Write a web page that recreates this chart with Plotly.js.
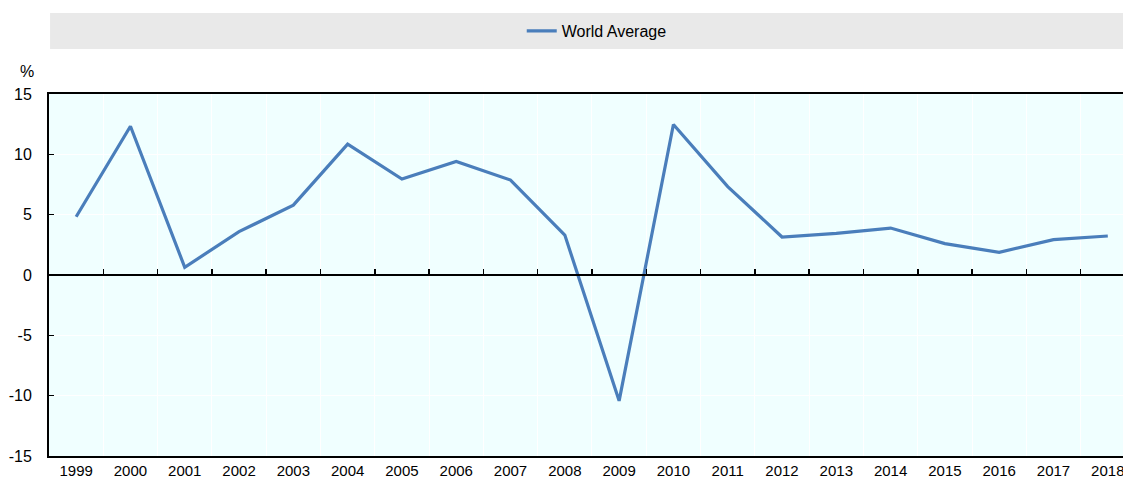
<!DOCTYPE html>
<html>
<head>
<meta charset="utf-8">
<script src="https://cdn.plot.ly/plotly-3.0.1.min.js"></script>
<style>
  html, body { margin: 0; padding: 0; background: #ffffff; }
  #chart { width: 1123px; height: 479px; }
</style>
</head>
<body>
<div id="chart"></div>
<script>
// Annual growth, world average (%)
const years = ["1999","2000","2001","2002","2003","2004","2005","2006","2007","2008",
               "2009","2010","2011","2012","2013","2014","2015","2016","2017","2018"];
const worldAverage = [4.83, 12.33, 0.64, 3.59, 5.79, 10.85, 7.95, 9.41, 7.87, 3.31,
                      -10.43, 12.47, 7.32, 3.15, 3.45, 3.89, 2.60, 1.88, 2.93, 3.23];
const seriesName = "World Average";
const yTicks = [-15, -10, -5, 0, 5, 10, 15];

const FONT = "'Liberation Sans Narrow', 'Arial Narrow', 'Liberation Sans', Arial, sans-serif";
const BLUE = "#4a7ebb";

const traces = [
  {
    x: years, y: worldAverage, type: "scatter", mode: "lines",
    name: seriesName,
    line: { color: BLUE, width: 3.2 },
    xaxis: "x", yaxis: "y",
    hoverinfo: "x+y"
  },
  // carrier for the zero-line axis with category boundary ticks
  {
    x: years, y: worldAverage, type: "scatter", mode: "lines",
    xaxis: "x2", yaxis: "y",
    line: { color: "rgba(0,0,0,0)", width: 0 },
    showlegend: false, hoverinfo: "skip"
  }
];

const xRange = [-0.5, 19.28];

const layout = {
  width: 1123, height: 479,
  margin: { l: 49, r: 0, t: 94, b: 23, pad: 0 },
  paper_bgcolor: "#ffffff",
  plot_bgcolor: "#f0ffff",
  font: { family: FONT, size: 16, color: "#000000" },
  showlegend: true,
  legend: {
    orientation: "h",
    x: 0.51, xanchor: "center",
    y: 1.174, yanchor: "middle",
    bgcolor: "rgba(0,0,0,0)",
    font: { family: FONT, size: 16, color: "#000000" }
  },
  xaxis: {
    type: "category",
    range: xRange,
    tickson: "boundaries",
    ticks: "",
    showgrid: true, gridcolor: "#ffffff", gridwidth: 1,
    showline: true, linecolor: "#000000", linewidth: 2,
    mirror: true,
    tickfont: { family: FONT, size: 15, color: "#000000" },
    ticklabelstandoff: 0,
    fixedrange: true
  },
  xaxis2: {
    type: "category",
    overlaying: "x",
    anchor: "free",
    position: 0.5,
    side: "bottom",
    range: xRange,
    tickson: "boundaries",
    ticks: "inside", ticklen: 5, tickwidth: 1.5, tickcolor: "#000000",
    showticklabels: false,
    showgrid: false,
    showline: true, linecolor: "#000000", linewidth: 2,
    fixedrange: true
  },
  yaxis: {
    range: [-15, 15],
    tickvals: yTicks,
    ticktext: yTicks.map(String),
    ticks: "inside", ticklen: 5, tickwidth: 1.5, tickcolor: "#000000",
    showgrid: true, gridcolor: "#ffffff", gridwidth: 1,
    zeroline: false,
    showline: true, linecolor: "#000000", linewidth: 2,
    tickfont: { family: FONT, size: 16, color: "#000000" },
    ticklabelstandoff: 12,
    fixedrange: true
  },
  shapes: [
    {
      type: "rect", xref: "paper", yref: "paper",
      x0: 0.001, x1: 1, y0: 1.1243, y1: 1.2238,
      fillcolor: "#e9e9e9", line: { width: 0 }, layer: "below"
    }
  ],
  annotations: [
    {
      text: "%", xref: "paper", yref: "paper",
      x: -0.0205, y: 1.061, xanchor: "center", yanchor: "middle",
      showarrow: false,
      font: { family: FONT, size: 16, color: "#000000" }
    }
  ]
};

Plotly.newPlot("chart", traces, layout, { displayModeBar: false, staticPlot: true });
</script>
</body>
</html>
